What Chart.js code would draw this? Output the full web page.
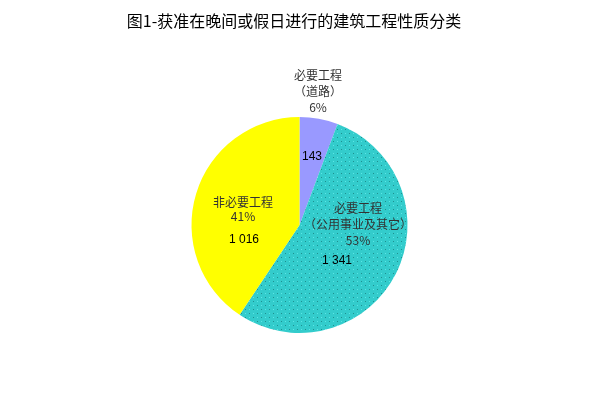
<!DOCTYPE html>
<html>
<head>
<meta charset="utf-8">
<script src="https://cdn.jsdelivr.net/npm/chart.js@4/dist/chart.umd.min.js"></script>
<style>
  html, body { margin: 0; padding: 0; background: #ffffff; }
  #wrap { width: 602px; height: 418px; position: relative; }
</style>
</head>
<body>
<div id="wrap"><canvas id="pie-chart"></canvas></div>
<script>
const chartTitle = '图1-获准在晚间或假日进行的建筑工程性质分类';
const categories = [['必要工程', '（道路）'], ['必要工程', '（公用事业及其它）'], ['非必要工程']];
const values = [143, 1341, 1016];
const pctLabels = ['6%', '53%', '41%'];

const fmt = (v) => String(v).replace(/\B(?=(\d{3})+(?!\d))/g, ' ');

// dotted fill for the big slice
function dotPattern(base, dark, light) {
  const c = document.createElement('canvas');
  c.width = 8; c.height = 8;
  const g = c.getContext('2d');
  g.fillStyle = base;
  g.fillRect(0, 0, 8, 8);
  g.fillStyle = dark;
  g.fillRect(1, 1, 1, 1);
  g.fillRect(5, 5, 1, 1);
  g.fillStyle = light;
  g.fillRect(5, 1, 1, 1);
  g.fillRect(1, 5, 1, 1);
  return g.createPattern(c, 'repeat');
}

const cjk = '"Noto Sans CJK SC", "DejaVu Sans", sans-serif';

const labelsPlugin = {
  id: 'pieLabels',
  afterDraw(chart) {
    const { ctx } = chart;
    const arc = chart.getDatasetMeta(0).data[0];
    const cx = arc.x, cy = arc.y, r = arc.outerRadius;
    const k = r / 108;
    ctx.save();
    ctx.textAlign = 'center';
    ctx.textBaseline = 'middle';

    // title
    ctx.fillStyle = '#000000';
    ctx.font = '16px ' + cjk;
    ctx.fillText(chartTitle, 294, 21);

    // category + percent blocks (offsets from pie centre, in px at r=108)
    const blocks = [
      { dx: 18.5, dy: -150, lh: 16 },
      { dx: 58.5, dy: -17, lh: 16 },
      { dx: -56.5, dy: -23, lh: 14 },
    ];
    ctx.font = '12px ' + cjk;
    ctx.fillStyle = '#333333';
    blocks.forEach((b, i) => {
      const lines = categories[i].concat([pctLabels[i]]);
      lines.forEach((t, j) => {
        ctx.fillText(t, cx + b.dx * k, cy + b.dy * k + j * b.lh);
      });
    });

    // values
    const vpos = [[12.5, -68], [37.5, 36], [-55.5, 15]];
    ctx.font = '12px "Liberation Sans", Arial, sans-serif';
    ctx.fillStyle = '#000000';
    values.forEach((v, i) => {
      ctx.fillText(fmt(v), cx + vpos[i][0] * k, cy + vpos[i][1] * k);
    });
    ctx.restore();
  }
};

const canvas = document.getElementById('pie-chart');

new Chart(canvas, {
  type: 'pie',
  data: {
    labels: categories.map(c => c.join('')),
    datasets: [
      {
        data: values,
        backgroundColor: ['#9999FF', dotPattern('#33CCCC', '#1E8F8F', '#5CE6E6'), '#FFFF00'],
        borderWidth: 0,
      },
    ],
  },
  options: {
    responsive: true,
    maintainAspectRatio: false,
    animation: false,
    layout: {
      padding: { top: 117, bottom: 85, left: 0, right: 3 },
    },
    plugins: {
      legend: { display: false },
      title: { display: false },
      tooltip: { enabled: false },
    },
  },
  plugins: [labelsPlugin],
});
</script>
</body>
</html>
